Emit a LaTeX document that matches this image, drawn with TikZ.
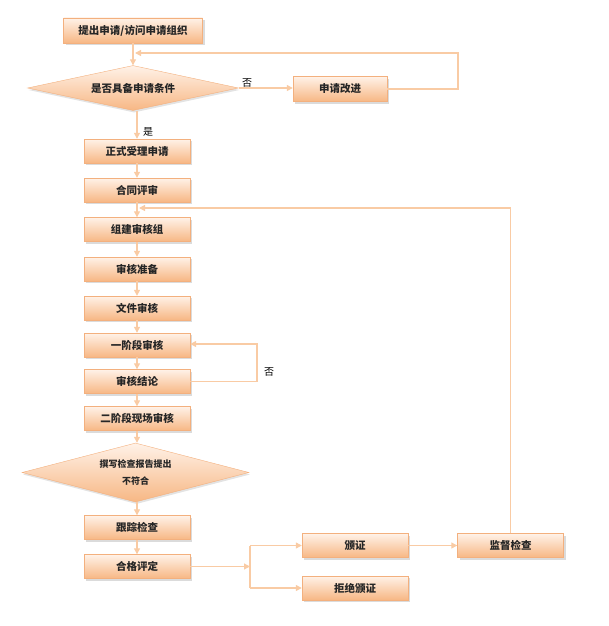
\documentclass[tikz,border=0pt]{standalone}
\usepackage{fontspec}
\setmainfont{Noto Sans CJK SC}
\usetikzlibrary{shapes.geometric,shadows,arrows.meta}
\definecolor{bxtop}{HTML}{FFF2E8}
\definecolor{bxbot}{HTML}{F7B784}
\definecolor{bxline}{HTML}{F3B07E}
\definecolor{ln}{HTML}{F9CBA4}
\tikzset{
 box/.style={rectangle, minimum width=106pt, minimum height=24pt, inner sep=0pt,
   draw=bxline, line width=0.4pt, top color=bxtop, bottom color=bxbot,
   drop shadow={shadow xshift=2pt, shadow yshift=-2pt, fill=black!28},
   font=\fontsize{10.5}{12}\selectfont\bfseries, text=black!85},
 dia/.style={diamond, inner sep=0pt, draw=bxline, line width=0.4pt,
   top color=bxtop, bottom color=bxbot,
   drop shadow={shadow xshift=1pt, shadow yshift=-2pt, fill=black!22},
   font=\fontsize{10.5}{12}\selectfont\bfseries, text=black!85},
 conn/.style={draw=ln, line width=1.2pt, -{Triangle[length=6pt,width=6pt]}},
 plain/.style={draw=ln, line width=1.2pt},
 lbl/.style={font=\fontsize{10}{12}\selectfont, text=black}
}
\begin{document}
\begin{tikzpicture}[x=1pt,y=-1pt]
\useasboundingbox (0,0) rectangle (609,626);
% nodes
\node[box, minimum width=139pt, minimum height=25pt] (b0) at (133,30.5) {提出申请/访问申请组织};
\node[dia, minimum width=211pt, minimum height=45pt, aspect=4.7] (d1) at (133,88) {是否具备申请条件};
\node[box, minimum width=94pt, minimum height=25pt] (r) at (340,89) {申请改进};
\node[box] (a1) at (137,151) {正式受理申请};
\node[box] (a2) at (137,190) {合同评审};
\node[box] (a3) at (137,229.5) {组建审核组};
\node[box] (a4) at (137,269) {审核准备};
\node[box] (a5) at (137,308) {文件审核};
\node[box] (a6) at (137,345) {一阶段审核};
\node[box] (a7) at (137,381.5) {审核结论};
\node[box] (a8) at (137,418.5) {二阶段现场审核};
\node[dia, minimum width=227pt, minimum height=59pt, aspect=3.85,
  font=\fontsize{9}{17}\selectfont\bfseries, align=center] (d2) at (135.5,472.5) {撰写检查报告提出\\不符合};
\node[box] (a9) at (137,527.5) {跟踪检查};
\node[box] (a10) at (137,566.5) {合格评定};
\node[box] (c1) at (355,545.5) {颁证};
\node[box] (c2) at (355,588) {拒绝颁证};
\node[box] (m) at (510.5,545.5) {监督检查};
% labels
\node[lbl] (l1) at (247,83) {否};
\node[lbl] (l2) at (148,132) {是};
\node[lbl] (l3) at (269,372) {否};
% coordinates
\coordinate (k1) at (458,53);
\coordinate (k2) at (257,344);
\coordinate (k3) at (510,208);
\coordinate (k4) at (250,566.5);
\coordinate (k5) at (250,545.5);
\coordinate (k6) at (250,588);
% connectors
\draw[conn] (b0.south -| d1.north) -- (d1.north);
\draw[conn] (d1.east) -- (r.west |- d1.east);
\draw[conn] (r.east) -| (k1) -- ([xshift=2pt]k1 -| d1.north);
\draw[conn] (d1.south -| a1.north) -- (a1.north);
\draw[conn] (a1) -- (a2);
\draw[conn] (a2) -- (a3);
\draw[conn] (a3) -- (a4);
\draw[conn] (a4) -- (a5);
\draw[conn] (a5) -- (a6);
\draw[conn] (a6) -- (a7);
\draw[conn] (a7) -- (a8);
\draw[conn] (a8.south) -- (a8.south |- d2.north);
\draw[conn] (d2.south -| a9.north) -- (a9.north);
\draw[conn] (a9) -- (a10);
\draw[conn] (a7.east) -| (k2) -- (a6.east |- k2);
\draw[conn] (m.north) |- ([xshift=2pt]k3 -| a2.south);
\draw[conn] (a10.east) -- (k4);
\draw[plain] (k5) -- (k6);
\draw[conn] (k5) -- (c1.west);
\draw[conn] (k6) -- (c2.west);
\draw[conn] (c1.east) -- (m.west);
\end{tikzpicture}
\end{document}
